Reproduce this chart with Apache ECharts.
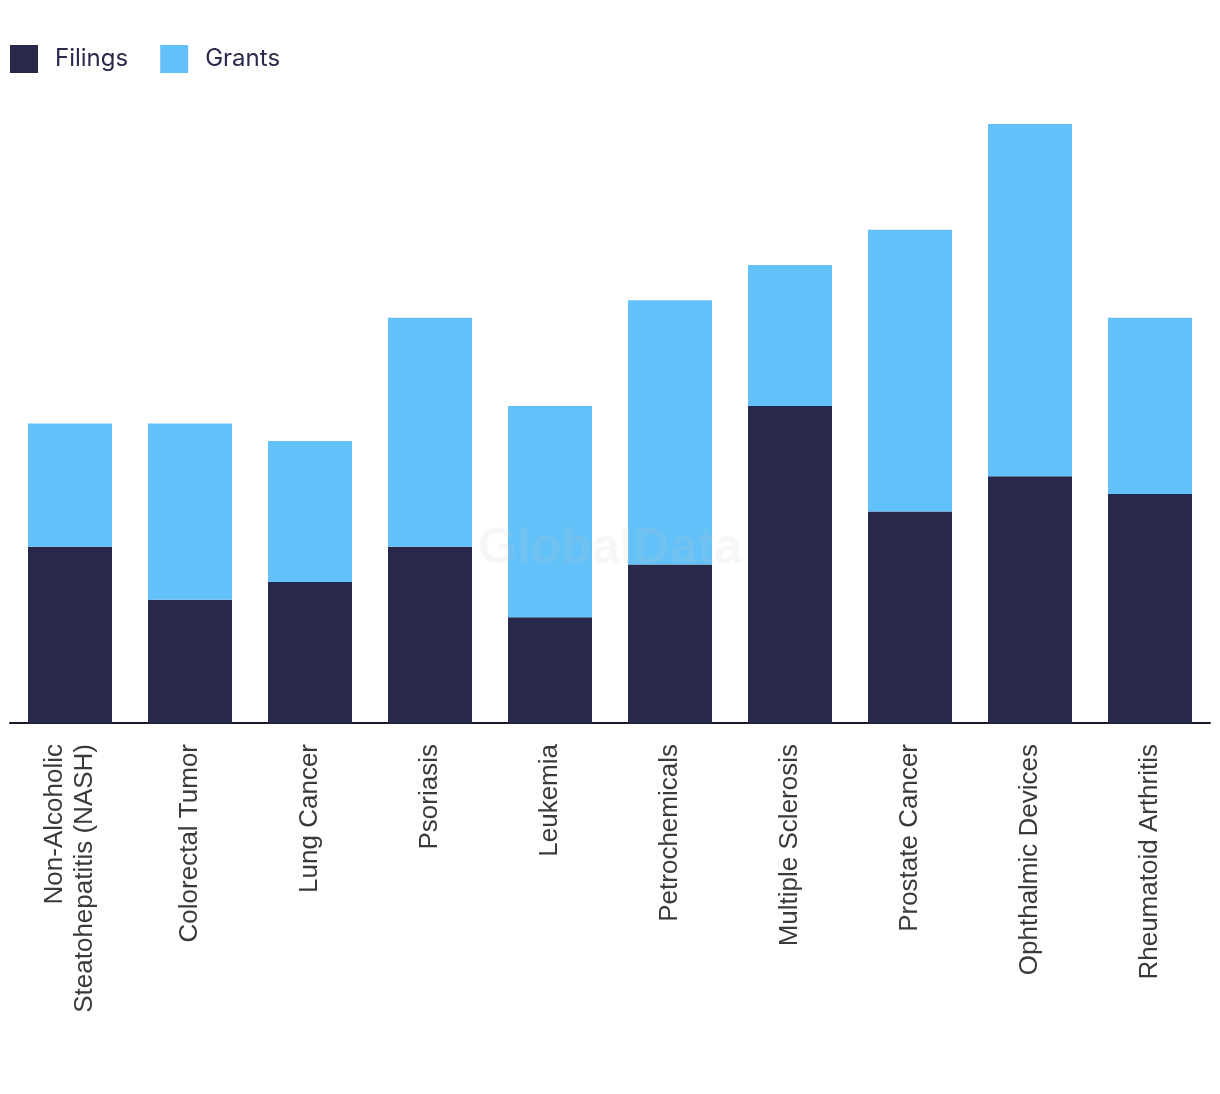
<!DOCTYPE html>
<html><head><meta charset="utf-8">
<script src="https://cdn.jsdelivr.net/npm/echarts@6/dist/echarts.min.js"></script>
<style>html,body{margin:0;padding:0;background:#fff}#c{width:1220px;height:1094px}</style>
</head><body><div id="c"></div>
<script>
const categories = ["Non-Alcoholic\nSteatohepatitis (NASH)","Colorectal Tumor","Lung Cancer","Psoriasis","Leukemia","Petrochemicals","Multiple Sclerosis","Prostate Cancer","Ophthalmic Devices","Rheumatoid Arthritis"];
const filings = [10,7,8,10,6,9,18,12,14,13];
const grants = [7,10,8,13,12,15,8,16,20,10];

const chart = echarts.init(document.getElementById('c'));
chart.setOption({
  animation:false,
  legend:{left:10,top:45,padding:0,itemWidth:28,itemHeight:28,itemGap:32,icon:'rect',
    textStyle:{fontFamily:'Inter',fontSize:24,color:'#27284A',padding:[0,0,0,12]},
    data:['Filings','Grants']},
  graphic:[{type:'text',left:'center',top:524,z:100,
    style:{text:'GlobalData',font:'bold 50px "Liberation Sans"',fill:'rgba(200,200,200,0.15)'}}],
  grid:{left:10,right:10,top:124,bottom:371,containLabel:false},
  xAxis:{type:'category',data:categories,
    axisLine:{lineStyle:{color:'#1a1a2e',width:2}},
    axisTick:{show:false},
    axisLabel:{rotate:90,margin:21,fontSize:26,fontFamily:'Liberation Sans',color:'#3a3a3a',lineHeight:30,interval:0}},
  yAxis:{type:'value',min:0,max:34,show:false,splitLine:{show:false}},
  series:[
    {name:'Filings',type:'bar',stack:'a',data:filings,barWidth:'70%',itemStyle:{color:'#27284A'}},
    {name:'Grants',type:'bar',stack:'a',data:grants,barWidth:'70%',itemStyle:{color:'#62C1F8'}}
  ]
});
</script></body></html>
